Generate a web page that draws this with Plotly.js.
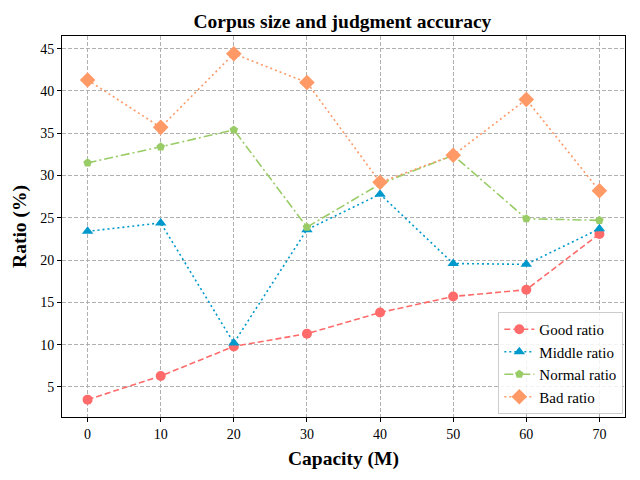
<!DOCTYPE html>
<html>
<head>
<meta charset="utf-8">
<script src="https://cdn.plot.ly/plotly-3.0.1.min.js"></script>
<style>
  html, body { margin: 0; padding: 0; background: #ffffff; }
  #chart { width: 640px; height: 480px; }
</style>
</head>
<body>
<div id="chart"></div>
<script>
// capacity (M) on the x axis
const capacity = [0, 10, 20, 30, 40, 50, 60, 70];

// ratios in percent
const goodRatio   = [3.5, 6.3, 9.8, 11.3, 13.8, 15.7, 16.5, 23.1];
const middleRatio = [23.4, 24.4, 10.2, 23.6, 27.8, 19.6, 19.5, 23.7];
const normalRatio = [31.5, 33.4, 35.4, 23.9, 29.0, 32.4, 24.9, 24.7];
const badRatio    = [41.3, 35.7, 44.4, 41.0, 29.2, 32.4, 39.0, 28.2];

const xTicks = [0, 10, 20, 30, 40, 50, 60, 70];
const yTicks = [5, 10, 15, 20, 25, 30, 35, 40, 45];

const FONT = 'Liberation Serif';

function series(name, y, color, dash, symbol, size) {
    return {
        x: capacity,
        y: y,
        name: name,
        type: 'scatter',
        mode: 'lines+markers',
        line: { color: color, dash: dash, width: 1.6 },
        marker: { color: color, symbol: symbol, size: size }
    };
}

const traces = [
    series('Good ratio',   goodRatio,   '#ff6b6b', '6px,3px',             'circle',      10),
    series('Middle ratio', middleRatio, '#0099cc', '2px,3px',             'triangle-up', 10),
    series('Normal ratio', normalRatio, '#99cc66', '9px,3px,2px,3px',     'pentagon',    9),
    series('Bad ratio',    badRatio,    '#ff9966', '2px,3px',             'diamond',     12)
];

const axisBase = {
    showline: true,
    linecolor: '#000000',
    linewidth: 1,
    mirror: true,
    ticks: 'outside',
    ticklen: 4,
    tickcolor: '#000000',
    showgrid: true,
    gridcolor: '#b0b0b0',
    griddash: '4px,2px',
    gridwidth: 1,
    zeroline: false,
    tickfont: { family: FONT, size: 14, color: '#000000' }
};

Plotly.newPlot('chart', traces, {
    width: 640,
    height: 480,
    paper_bgcolor: '#ffffff',
    plot_bgcolor: '#ffffff',
    margin: { l: 62, r: 15, t: 36, b: 63 },
    title: {
        text: '<b>Corpus size and judgment accuracy</b>',
        font: { family: FONT, size: 19.5, color: '#000000' },
        x: 0.535, xanchor: 'center',
        y: 0.955, yanchor: 'middle'
    },
    xaxis: Object.assign({}, axisBase, {
        range: [-3.5, 73.5],
        tickvals: xTicks,
        title: {
            text: '<b>Capacity (M)</b>',
            font: { family: FONT, size: 19.5, color: '#000000' },
            standoff: 10
        }
    }),
    yaxis: Object.assign({}, axisBase, {
        range: [1.45, 46.5],
        tickvals: yTicks,
        title: {
            text: '<b>Ratio (%)</b>',
            font: { family: FONT, size: 19.5, color: '#000000' },
            standoff: 8
        }
    }),
    showlegend: true,
    legend: {
        x: 0.997, xanchor: 'right',
        y: 0.008, yanchor: 'bottom',
        bgcolor: 'rgba(255,255,255,0.85)',
        bordercolor: '#cccccc',
        borderwidth: 1,
        font: { family: FONT, size: 15, color: '#000000' },
        tracegroupgap: 0
    }
}, { displayModeBar: false });
</script>
</body>
</html>
